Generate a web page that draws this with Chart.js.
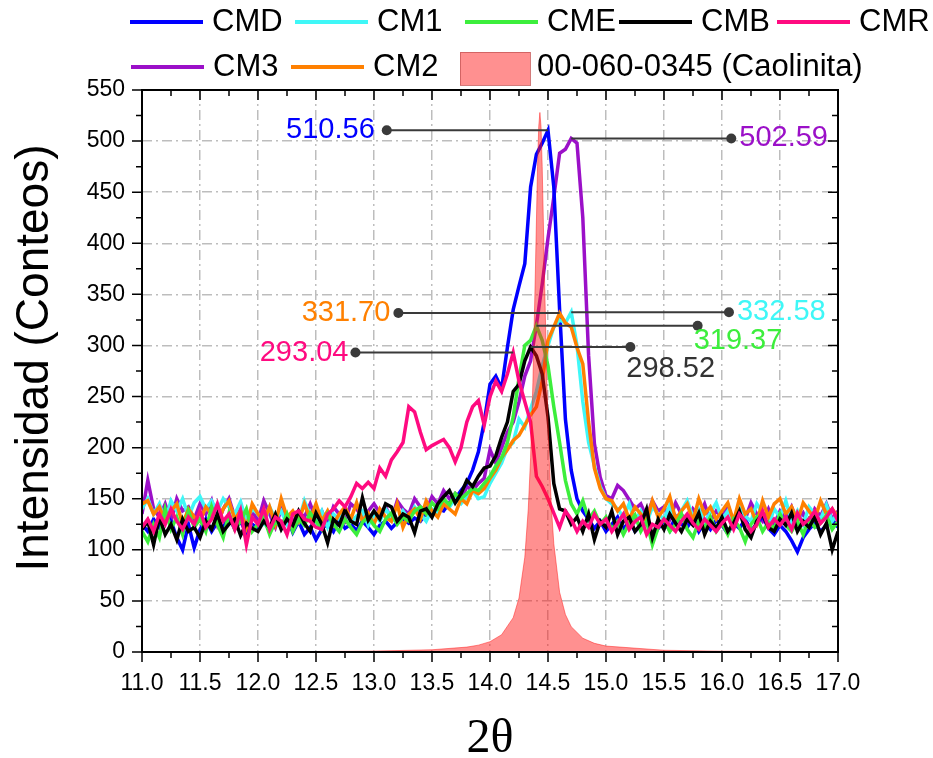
<!DOCTYPE html>
<html>
<head>
<meta charset="utf-8">
<script src="https://cdn.jsdelivr.net/npm/chart.js@4.4.0/dist/chart.umd.min.js"></script>
<style>
  html, body { margin: 0; background: #fff; }
  canvas { display: block; }
</style>
</head>
<body>
<canvas id="grafico" width="933" height="758"></canvas>
<script>
// eje 2θ (paso 0.05)
const angulo = [
  11.00, 11.05, 11.10, 11.15, 11.20, 11.25, 11.30, 11.35, 11.40, 11.45,
  11.50, 11.55, 11.60, 11.65, 11.70, 11.75, 11.80, 11.85, 11.90, 11.95,
  12.00, 12.05, 12.10, 12.15, 12.20, 12.25, 12.30, 12.35, 12.40, 12.45,
  12.50, 12.55, 12.60, 12.65, 12.70, 12.75, 12.80, 12.85, 12.90, 12.95,
  13.00, 13.05, 13.10, 13.15, 13.20, 13.25, 13.30, 13.35, 13.40, 13.45,
  13.50, 13.55, 13.60, 13.65, 13.70, 13.75, 13.80, 13.85, 13.90, 13.95,
  14.00, 14.05, 14.10, 14.15, 14.20, 14.25, 14.30, 14.35, 14.40, 14.45,
  14.50, 14.55, 14.60, 14.65, 14.70, 14.75, 14.80, 14.85, 14.90, 14.95,
  15.00, 15.05, 15.10, 15.15, 15.20, 15.25, 15.30, 15.35, 15.40, 15.45,
  15.50, 15.55, 15.60, 15.65, 15.70, 15.75, 15.80, 15.85, 15.90, 15.95,
  16.00, 16.05, 16.10, 16.15, 16.20, 16.25, 16.30, 16.35, 16.40, 16.45,
  16.50, 16.55, 16.60, 16.65, 16.70, 16.75, 16.80, 16.85, 16.90, 16.95,
  17.00
];

const cmd = [
  125, 118, 130, 122, 135, 128, 112, 100, 125, 102,
  120, 130, 118, 127, 122, 132, 120, 128, 116, 125,
  121, 130, 118, 126, 124, 133, 117, 128, 115, 122,
  110, 120, 126, 118, 130, 121, 125, 119, 128, 122,
  115, 124, 128, 121, 127, 130, 126, 131, 128, 136,
  133, 140, 138, 146, 150, 158, 165, 178, 196, 225,
  262, 270, 258, 298, 335, 358, 380, 455, 487, 498,
  510.56, 455, 335, 228, 178, 150, 138, 130, 121, 128,
  118, 125, 132, 120, 128, 118, 124, 130, 112, 121,
  128, 119, 133, 125, 122, 131, 118, 127, 120, 129,
  124, 116, 126, 121, 130, 119, 125, 133, 121, 115,
  124, 118, 109, 98, 112, 120, 126, 118, 124, 130,
  122
];

const cm1 = [
  140, 150, 135, 145, 128, 148, 138, 150, 132, 146,
  152, 140, 148, 138, 150, 142, 135, 147, 128, 140,
  135, 126, 142, 130, 138, 125, 136, 128, 148, 134,
  126, 138, 122, 135, 130, 140, 127, 133, 138, 124,
  135, 128, 140, 132, 126, 138, 130, 142, 135, 128,
  140, 136, 148, 142, 150, 145, 152, 158, 150, 152,
  165, 175, 185, 200, 205, 228, 220, 238, 255, 280,
  300, 318, 325, 322, 332.58, 300, 245, 205, 182, 162,
  150, 145, 140, 132, 145, 128, 138, 126, 142, 135,
  130, 144, 126, 138, 148, 132, 140, 128, 136, 146,
  130, 138, 125, 142, 133, 128, 145, 136, 124, 140,
  132, 148, 128, 138, 125, 142, 135, 130, 144, 128,
  136
];

const cme = [
  118, 108, 125, 112, 140, 120, 132, 115, 138, 122,
  130, 118, 142, 125, 112, 136, 120, 128, 140, 118,
  125, 132, 115, 128, 122, 135, 118, 130, 124, 136,
  128, 120, 135, 125, 118, 130, 122, 115, 127, 132,
  124, 118, 130, 136, 125, 132, 128, 138, 142, 135,
  146, 140, 150, 144, 155, 150, 155, 160, 158, 165,
  172, 182, 190, 205, 230, 268, 300, 305, 319.37, 305,
  280, 240, 205, 168, 145, 135, 148, 130, 138, 125,
  132, 120, 128, 115, 126, 134, 118, 128, 105, 122,
  130, 118, 125, 135, 120, 112, 128, 122, 132, 118,
  126, 115, 130, 122, 108, 125, 132, 118, 127, 121,
  135, 124, 118, 128, 115, 130, 122, 126, 134, 120,
  128
];

const cmb = [
  120, 128, 105, 132, 115, 125, 110, 130, 118, 122,
  112, 128, 120, 135, 118, 125, 130, 114, 126, 121,
  118, 128, 122, 135, 120, 130, 124, 138, 126, 118,
  136, 125, 107, 130, 124, 139, 128, 125, 151, 129,
  138, 130, 145, 142, 128, 135, 132, 117, 138, 140,
  132, 145, 152, 158, 146, 155, 168, 162, 172, 180,
  182, 192, 210, 225, 255, 262, 285, 298.52, 290, 272,
  230, 165, 140, 138, 125, 132, 118, 135, 110, 128,
  122, 138, 115, 128, 132, 118, 125, 140, 112, 130,
  120, 135, 126, 118, 130, 124, 136, 115, 128, 121,
  132, 118, 126, 138, 120, 112, 128, 135, 122, 118,
  130, 124, 136, 118, 128, 122, 132, 115, 126, 100,
  118
];

const cmr = [
  122, 130, 118, 135, 125, 140, 128, 120, 132, 125,
  138, 122, 130, 145, 128, 135, 120, 138, 105, 132,
  125, 140, 120, 132, 128, 115, 135, 138, 130, 128,
  122, 120, 135, 140, 148, 142, 152, 165, 160, 166,
  160, 180, 172, 188, 196, 205, 240, 235, 215, 198,
  202, 205, 208, 200, 186, 200, 225, 240, 246, 222,
  250, 265, 255, 272, 293.04, 265, 245, 225, 172, 162,
  150, 136, 122, 138, 130, 118, 128, 122, 135, 125,
  130, 118, 126, 135, 120, 128, 132, 115, 125, 122,
  130, 124, 118, 128, 135, 126, 120, 130, 124, 118,
  126, 132, 120, 135, 128, 118, 125, 138, 122, 130,
  124, 132, 120, 136, 125, 130, 138, 126, 132, 140,
  128
];

const cm3 = [
  135, 168, 140, 132, 145, 128, 150, 138, 142, 130,
  145, 135, 148, 125, 140, 150, 132, 145, 120, 138,
  128, 148, 135, 122, 140, 130, 126, 138, 132, 145,
  130, 138, 125, 142, 135, 128, 145, 140, 132, 138,
  145, 136, 142, 130, 148, 140, 135, 150, 142, 138,
  152, 145, 158, 150, 155, 148, 162, 158, 165, 170,
  198, 185, 200, 215, 225, 245, 270, 285, 320, 360,
  405, 445, 488, 492, 502.59, 498, 425, 290, 204, 171,
  153, 150, 163, 158, 149, 140, 145, 132, 148, 138,
  142, 130, 146, 135, 125, 140, 133, 145, 128, 138,
  132, 144, 126, 138, 130, 146, 135, 128, 140, 125,
  138, 130, 142, 128, 136, 124, 140, 133, 145, 130,
  138
];

const cm2 = [
  145, 148, 135, 142, 128, 138, 145, 125, 140, 132,
  128, 142, 135, 125, 140, 148, 130, 138, 122, 145,
  135, 128, 142, 125, 150, 132, 138, 128, 145, 130,
  145, 128, 138, 125, 135, 142, 130, 146, 128, 136,
  125, 140, 132, 128, 145, 122, 135, 140, 130, 148,
  138, 132, 145, 140, 135, 150, 145, 158, 155, 160,
  170, 178, 190, 198, 207, 212, 222, 232, 240, 265,
  305, 318, 331.70, 322, 318, 298, 282, 225, 180, 160,
  150, 148, 138, 145, 130, 142, 135, 128, 148, 132,
  140, 152, 130, 138, 145, 128, 150, 135, 142, 130,
  138, 146, 128, 150, 135, 140, 126, 148, 132, 145,
  150, 135, 142, 128, 146, 138, 130, 148, 135, 140,
  132
];

// patrón de referencia 00-060-0345 (Caolinita)
const caolinitaX = [11.0, 12.0, 12.5, 13.0, 13.5, 13.8, 13.9, 14.0, 14.1, 14.2,
  14.25, 14.3, 14.33, 14.35, 14.37, 14.39, 14.41, 14.42, 14.43, 14.44,
  14.45, 14.47, 14.49, 14.51, 14.53, 14.55, 14.6, 14.65, 14.7, 14.8,
  14.9, 15.0, 15.5, 16.0, 17.0];
const caolinitaY = [0.2, 0.3, 0.5, 0.9, 2.2, 4.8, 6.7, 10.1, 16.9, 33.6,
  52.8, 92.8, 140, 190, 264, 366, 475, 514, 528, 514,
  475, 366, 264, 190, 140, 106, 58.5, 36.7, 24.8, 13.5,
  8.5, 5.8, 1.7, 0.8, 0.3];

const ticksY = [0, 50, 100, 150, 200, 250, 300, 350, 400, 450, 500, 550];

const series = [
  { nombre: "CMD", y: cmd, color: "#0000ff", orden: 6 },
  { nombre: "CM1", y: cm1, color: "#3ff7f7", orden: 5 },
  { nombre: "CME", y: cme, color: "#3cee3c", orden: 3 },
  { nombre: "CMB", y: cmb, color: "#000000", orden: 2 },
  { nombre: "CMR", y: cmr, color: "#ff0a80", orden: 1 },
  { nombre: "CM3", y: cm3, color: "#9b10c8", orden: 7 },
  { nombre: "CM2", y: cm2, color: "#ff8000", orden: 4 }
];

const rellenoCaolinita = "rgba(255, 20, 20, 0.47)";

// etiquetas de los máximos
const anotaciones = [
  { nombre: "CMD", puntoX: 13.11, alinear: "right", ox: -12, oy: 0 },
  { nombre: "CM3", puntoX: 16.08, alinear: "left", ox: 8, oy: 0 },
  { nombre: "CM1", puntoX: 16.06, alinear: "left", ox: 8, oy: 0 },
  { nombre: "CME", puntoX: 15.79, alinear: "left", ox: -4, oy: 15 },
  { nombre: "CM2", puntoX: 13.21, alinear: "right", ox: -8, oy: 0 },
  { nombre: "CMR", puntoX: 12.84, alinear: "right", ox: -7, oy: 0 },
  { nombre: "CMB", puntoX: 15.21, alinear: "left", ox: -4, oy: 22, texto: "#333333" }
];

const leyenda = [
  { nombre: "CMD", x: 130, fila: 0 },
  { nombre: "CM1", x: 295, fila: 0 },
  { nombre: "CME", x: 465, fila: 0 },
  { nombre: "CMB", x: 619, fila: 0 },
  { nombre: "CMR", x: 777, fila: 0 },
  { nombre: "CM3", x: 131, fila: 1 },
  { nombre: "CM2", x: 291, fila: 1 }
];

const fuente = "'Liberation Sans', Arial, sans-serif";
Chart.defaults.font.family = fuente;
Chart.defaults.color = "#000";

const datasets = series.map(s => ({
  label: s.nombre,
  data: s.y.map((v, i) => ({ x: angulo[i], y: v })),
  borderColor: s.color,
  borderWidth: 3.5,
  pointRadius: 0,
  tension: 0,
  fill: false,
  order: s.orden
}));

datasets.push({
  label: "00-060-0345 (Caolinita)",
  data: caolinitaX.map((v, i) => ({ x: v, y: caolinitaY[i] })),
  borderColor: rellenoCaolinita,
  borderWidth: 1,
  backgroundColor: rellenoCaolinita,
  pointRadius: 0,
  tension: 0,
  fill: "origin",
  order: 0
});

const pluginAnotaciones = {
  id: "anotaciones",
  afterDatasetsDraw(chart) {
    const { ctx, scales: { x, y } } = chart;
    anotaciones.forEach(a => {
      const s = series.find(e => e.nombre === a.nombre);
      let k = 0;
      s.y.forEach((v, i) => { if (v > s.y[k]) k = i; });
      const px = x.getPixelForValue(angulo[k]);
      const py = y.getPixelForValue(s.y[k]);
      const dx = x.getPixelForValue(a.puntoX);
      ctx.save();
      ctx.strokeStyle = "#3a3a3a";
      ctx.fillStyle = "#3a3a3a";
      ctx.lineWidth = 2;
      ctx.beginPath();
      ctx.moveTo(px, py);
      ctx.lineTo(dx, py);
      ctx.stroke();
      ctx.beginPath();
      ctx.arc(dx, py, 5, 0, 2 * Math.PI);
      ctx.fill();
      ctx.font = "29px " + fuente;
      ctx.fillStyle = a.texto || s.color;
      ctx.textAlign = a.alinear;
      ctx.textBaseline = "middle";
      ctx.fillText(s.y[k].toFixed(2), dx + a.ox, py + a.oy);
      ctx.restore();
    });
  }
};

const pluginMarco = {
  id: "marco",
  afterDraw(chart) {
    const { ctx, chartArea: a, scales: { x, y } } = chart;
    ctx.save();
    ctx.strokeStyle = "#000";
    ctx.lineWidth = 1.5;
    ctx.beginPath();
    for (let v = 11; v <= 17.001; v += 0.25) {
      const p = x.getPixelForValue(v);
      const largo = Math.abs(v * 2 - Math.round(v * 2)) < 0.01 ? 10 : 6;
      ctx.moveTo(p, a.bottom); ctx.lineTo(p, a.bottom + largo);
      ctx.moveTo(p, a.top); ctx.lineTo(p, a.top + largo);
    }
    for (let v = 0; v <= 550; v += 25) {
      const p = y.getPixelForValue(v);
      const largo = v % 50 === 0 ? 10 : 6;
      ctx.moveTo(a.left, p); ctx.lineTo(a.left - largo, p);
      ctx.moveTo(a.right, p); ctx.lineTo(a.right - largo, p);
    }
    ctx.stroke();
    ctx.lineWidth = 2;
    ctx.strokeRect(a.left, a.top, a.right - a.left, a.bottom - a.top);

    // títulos de los ejes
    ctx.fillStyle = "#000";
    ctx.font = "46px " + fuente;
    ctx.textAlign = "center";
    ctx.textBaseline = "alphabetic";
    ctx.save();
    ctx.translate(48, 358);
    ctx.rotate(-Math.PI / 2);
    ctx.fillText("Intensidad (Conteos)", 0, 0);
    ctx.restore();
    ctx.font = "48px 'Liberation Serif', 'Times New Roman', serif";
    ctx.fillText("2θ", (a.left + a.right) / 2, 752);

    // leyenda
    ctx.font = "31px " + fuente;
    ctx.textAlign = "left";
    ctx.textBaseline = "middle";
    const filas = [22, 67];
    leyenda.forEach(l => {
      const s = series.find(e => e.nombre === l.nombre);
      const yy = filas[l.fila];
      ctx.strokeStyle = s.color;
      ctx.lineWidth = 4;
      ctx.beginPath();
      ctx.moveTo(l.x, yy);
      ctx.lineTo(l.x + 73, yy);
      ctx.stroke();
      ctx.fillStyle = "#000";
      ctx.fillText(s.nombre, l.x + 82, yy);
    });
    ctx.fillStyle = rellenoCaolinita;
    ctx.fillRect(460, 52, 70, 33);
    ctx.strokeStyle = "rgba(200, 90, 90, 0.8)";
    ctx.lineWidth = 1;
    ctx.strokeRect(460.5, 52.5, 70, 33);
    ctx.fillStyle = "#000";
    ctx.fillText("00-060-0345 (Caolinita)", 537, filas[1]);
    ctx.restore();
  }
};

new Chart(document.getElementById("grafico"), {
  type: "line",
  data: { datasets },
  options: {
    responsive: false,
    animation: false,
    devicePixelRatio: 1,
    layout: { padding: { top: 90, right: 95, left: 0, bottom: 0 } },
    plugins: {
      legend: { display: false },
      tooltip: { enabled: false }
    },
    scales: {
      x: {
        type: "linear",
        min: 11,
        max: 17,
        afterFit: s => { s.height = 106; },
        grid: { color: "#bdbdbd", lineWidth: 1.5, drawTicks: false },
        border: { display: false, dash: [10, 4, 2, 4] },
        ticks: {
          stepSize: 0.5,
          autoSkip: false,
          maxRotation: 0,
          padding: 18,
          font: { size: 23 },
          callback: v => Number(v).toFixed(1)
        }
      },
      y: {
        min: ticksY[0],
        max: ticksY[ticksY.length - 1],
        afterFit: s => { s.width = 142; },
        afterBuildTicks: s => { s.ticks = ticksY.map(v => ({ value: v })); },
        grid: { color: "#bdbdbd", lineWidth: 1.5, drawTicks: false },
        border: { display: false, dash: [10, 4, 2, 4] },
        ticks: {
          padding: 17,
          font: { size: 23 }
        }
      }
    }
  },
  plugins: [pluginAnotaciones, pluginMarco]
});
</script>
</body>
</html>
